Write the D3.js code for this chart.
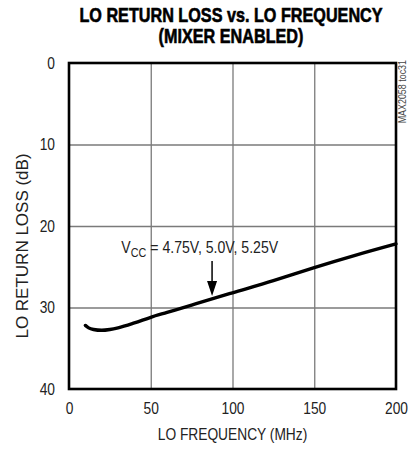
<!DOCTYPE html>
<html>
<head>
<meta charset="utf-8">
<script src="https://cdn.jsdelivr.net/npm/d3@7"></script>
<style>
    body { margin: 0; background: #fff; }
    svg { display: block; }
    text { font-family: "Liberation Sans", Arial, sans-serif; }
</style>
</head>
<body>
<div id="main"></div>
<script>
// LO return loss vs LO frequency
const freq = [10, 12, 15, 20, 25, 30, 40, 50, 60, 75, 90, 100, 125, 150, 175, 200];
const returnLoss = [32.2, 32.5, 32.7, 32.8, 32.7, 32.5, 31.9, 31.2, 30.6, 29.7, 28.8, 28.2, 26.7, 25.1, 23.6, 22.2];

const xTicks = [0, 50, 100, 150, 200];
const yTicks = [0, 10, 20, 30, 40];

// arrow pointing at the curve
const arrowFreq = 87.5;
const arrowFrom = 24.3;
const arrowTo = 28.6;

// no narrow font installed, so squeeze the glyphs sideways
const narrow = 0.81;

const margin = {top: 63, right: 13, bottom: 67, left: 69};
const width = 409 - margin.left - margin.right;
const height = 456 - margin.top - margin.bottom;

const svg = d3.select('#main').append('svg')
    .attr('width', 409)
    .attr('height', 456);

const g = svg.append('g')
    .attr('transform', 'translate(' + margin.left + ',' + margin.top + ')');

const x = d3.scaleLinear().domain([0, 200]).range([0, width]);
const y = d3.scaleLinear().domain([0, 40]).range([0, height]);

function addText(parent, tx, ty, rot, str, size, opts) {
    opts = opts || {};
    let tr = 'translate(' + tx + ',' + ty + ')';
    if (rot) tr += ' rotate(' + rot + ')';
    const t = parent.append('g')
        .attr('transform', tr)
        .append('text')
        .attr('transform', 'scale(' + (opts.scale || narrow) + ',1)')
        .attr('text-anchor', opts.anchor || 'middle')
        .style('font-size', size + 'px')
        .style('font-weight', opts.bold ? 'bold' : 'normal')
        .attr('fill', opts.fill || '#222');
    if (opts.bold) t.attr('stroke', '#000').attr('stroke-width', 0.6);
    if (str) t.text(str);
    return t;
}

// grid
g.append('g')
    .attr('class', 'grid')
    .attr('transform', 'translate(0,' + height + ')')
    .call(d3.axisBottom(x).tickValues(xTicks.slice(1, -1)).tickSize(-height).tickFormat(''))
    .call(s => s.select('.domain').remove());

g.append('g')
    .attr('class', 'grid')
    .call(d3.axisLeft(y).tickValues(yTicks.slice(1, -1)).tickSize(-width).tickFormat(''))
    .call(s => s.select('.domain').remove());

g.selectAll('.grid line')
    .attr('stroke', '#7a7a7a')
    .attr('stroke-width', 1.3);

// tick labels
const xAxis = g.append('g')
    .attr('transform', 'translate(0,' + height + ')')
    .call(d3.axisBottom(x).tickValues(xTicks).tickSize(0).tickPadding(13));

const yAxis = g.append('g')
    .call(d3.axisLeft(y).tickValues(yTicks).tickSize(0).tickPadding(14));

[xAxis, yAxis].forEach(function (a) {
    a.select('.domain').remove();
    a.selectAll('text')
        .attr('font-family', null)
        .attr('font-size', null)
        .style('font-size', '17px')
        .attr('fill', '#222')
        .attr('transform', 'scale(' + narrow + ',1)');
});
yAxis.selectAll('text').attr('x', -14 / narrow);

// curve
const line = d3.line()
    .x((d, i) => x(freq[i]))
    .y(d => y(d))
    .curve(d3.curveMonotoneX);

g.append('path')
    .datum(returnLoss)
    .attr('d', line)
    .attr('fill', 'none')
    .attr('stroke', '#000')
    .attr('stroke-width', 3.4)
    .attr('stroke-linecap', 'round');

// frame
g.append('rect')
    .attr('width', width)
    .attr('height', height)
    .attr('fill', 'none')
    .attr('stroke', '#000')
    .attr('stroke-width', 2.6);

// annotation
const label = addText(g, x(32), y(23.3), 0, null, 17, {anchor: 'start', scale: 0.83});
label.append('tspan').text('V');
label.append('tspan').text('CC').style('font-size', '13px').attr('dy', 4);
label.append('tspan').text(' = 4.75V, 5.0V, 5.25V').attr('dy', -4);

g.append('line')
    .attr('x1', x(arrowFreq))
    .attr('x2', x(arrowFreq))
    .attr('y1', y(arrowFrom))
    .attr('y2', y(arrowTo) - 10)
    .attr('stroke', '#000')
    .attr('stroke-width', 1.5);

g.append('path')
    .attr('d', 'M' + (x(arrowFreq) - 5) + ',' + (y(arrowTo) - 15) +
        'L' + (x(arrowFreq) + 5) + ',' + (y(arrowTo) - 15) +
        'L' + x(arrowFreq) + ',' + y(arrowTo) + 'Z')
    .attr('fill', '#000');

// titles
addText(svg, 231, 21.5, 0, 'LO RETURN LOSS vs. LO FREQUENCY', 20, {bold: true, fill: '#000'});
addText(svg, 231, 42.5, 0, '(MIXER ENABLED)', 20, {bold: true, fill: '#000'});
addText(svg, margin.left + width / 2, 440, 0, 'LO FREQUENCY (MHz)', 17);
addText(svg, 28, 246, -90, 'LO RETURN LOSS (dB)', 17, {scale: 1});
addText(svg, 406, 60, -90, 'MAX2058 toc31', 11, {anchor: 'end', fill: '#444'});
</script>
</body>
</html>
